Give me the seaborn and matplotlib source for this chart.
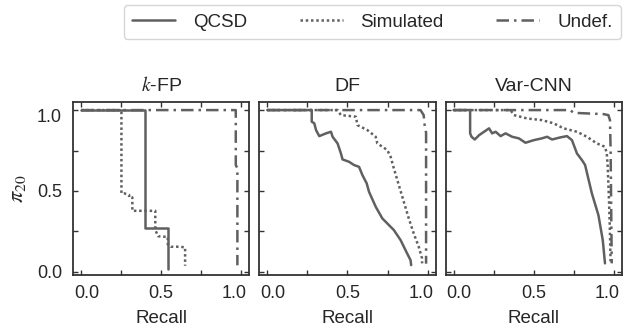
import numpy as np
import pandas as pd
import seaborn as sns
import matplotlib
matplotlib.use("Agg")
import matplotlib.pyplot as plt
from matplotlib.ticker import MultipleLocator
from matplotlib.lines import Line2D
from matplotlib.transforms import ScaledTranslation

# ---------------- data ----------------
panels = ["$k$-FP", "DF", "Var-CNN"]
methods = ["QCSD", "Simulated", "Undef."]

# k-FP
kfp_qcsd_x = [0.0, 0.399, 0.399, 0.541, 0.541]
kfp_qcsd_y = [1.0, 1.0, 0.272, 0.272, 0.02]
kfp_sim_x = [0.0, 0.252, 0.252, 0.27, 0.30, 0.30, 0.32, 0.32, 0.463, 0.463, 0.48, 0.541, 0.541, 0.56, 0.62, 0.649, 0.649]
kfp_sim_y = [1.0, 1.0, 0.485, 0.485, 0.475, 0.46, 0.46, 0.377, 0.377, 0.26, 0.22, 0.215, 0.17, 0.155, 0.155, 0.15, 0.037]
kfp_und_x = [0.0, 0.965, 0.965, 0.975, 0.975]
kfp_und_y = [1.0, 1.0, 0.66, 0.64, 0.04]

# DF
df_qcsd_x = [0.0, 0.277, 0.277, 0.293, 0.304, 0.324, 0.366, 0.397, 0.407, 0.438, 0.459, 0.469, 0.51, 0.541,
             0.572, 0.593, 0.62, 0.634, 0.676, 0.717, 0.789, 0.831, 0.872, 0.893, 0.897]
df_qcsd_y = [1.0, 1.0, 0.928, 0.918, 0.876, 0.839, 0.856, 0.866, 0.835, 0.794, 0.732, 0.695, 0.68, 0.66,
             0.649, 0.598, 0.546, 0.495, 0.402, 0.33, 0.258, 0.196, 0.113, 0.072, 0.041]
df_sim_x = [0.0, 0.438, 0.459, 0.552, 0.562, 0.624, 0.676, 0.686, 0.748, 0.769, 0.789, 0.82, 0.851, 0.882,
            0.913, 0.944, 0.965, 0.965]
df_sim_y = [1.0, 1.0, 0.969, 0.959, 0.907, 0.876, 0.835, 0.794, 0.753, 0.711, 0.639, 0.536, 0.433, 0.33,
            0.237, 0.155, 0.082, 0.052]
df_und_x = [0.0, 0.955, 0.975, 0.981, 0.99, 0.99]
df_und_y = [1.0, 1.0, 0.969, 0.907, 0.86, 0.05]

# Var-CNN
var_qcsd_x = [0.0, 0.103, 0.103, 0.112, 0.132, 0.159, 0.19, 0.221, 0.24, 0.262, 0.293, 0.324, 0.365, 0.407,
              0.448, 0.5, 0.55, 0.583, 0.614, 0.665, 0.707, 0.738, 0.769, 0.8, 0.82, 0.862, 0.903, 0.93, 0.944]
var_qcsd_y = [1.0, 1.0, 0.856, 0.835, 0.818, 0.845, 0.866, 0.887, 0.856, 0.866, 0.839, 0.856, 0.835, 0.825,
              0.798, 0.814, 0.825, 0.835, 0.818, 0.831, 0.839, 0.814, 0.732, 0.691, 0.66, 0.485, 0.35, 0.196, 0.052]
var_sim_x = [0.0, 0.355, 0.376, 0.459, 0.55, 0.624, 0.686, 0.769, 0.831, 0.893, 0.944, 0.955, 0.961, 0.969,
             0.975, 0.979]
var_sim_y = [1.0, 1.0, 0.969, 0.948, 0.938, 0.918, 0.887, 0.866, 0.835, 0.794, 0.773, 0.732, 0.649, 0.443,
             0.237, 0.052]
var_und_x = [0.0, 0.727, 0.748, 0.934, 0.965, 0.975, 0.979, 0.986]
var_und_y = [1.0, 1.0, 0.983, 0.975, 0.969, 0.938, 0.753, 0.052]

curves = {
    "$k$-FP": [(kfp_qcsd_x, kfp_qcsd_y), (kfp_sim_x, kfp_sim_y), (kfp_und_x, kfp_und_y)],
    "DF": [(df_qcsd_x, df_qcsd_y), (df_sim_x, df_sim_y), (df_und_x, df_und_y)],
    "Var-CNN": [(var_qcsd_x, var_qcsd_y), (var_sim_x, var_sim_y), (var_und_x, var_und_y)],
}

# ---------------- style ----------------
sns.set_theme(style="ticks")
plt.rcParams["font.family"] = ["Liberation Sans", "DejaVu Sans"]
plt.rcParams["mathtext.fontset"] = "stix"
fs = 13
lfs = 13.5

line_color = "#606060"
text_color = "#262626"
lw = 1.8
dash_map = {"QCSD": "", "Simulated": (1, 1.1), "Undef.": (5, 2, 1, 2)}

fig, axes = plt.subplots(1, 3, figsize=(6.24, 3.33), dpi=100, sharey=True)
fig.subplots_adjust(left=73/624, right=622/624, top=1-102/333, bottom=1-275/333, wspace=0.056)

for ax, name in zip(axes, panels):
    rows = []
    for m, (xs, ys) in zip(methods, curves[name]):
        for i, (x, y) in enumerate(zip(xs, ys)):
            rows.append({"Recall": x, "pi": y, "method": m, "order": i})
    data = pd.DataFrame(rows)
    sns.lineplot(data=data, x="Recall", y="pi", style="method", style_order=methods,
                 dashes=dash_map, sort=False, estimator=None, color=line_color,
                 linewidth=lw, ax=ax, legend=False)
    ax.set_xlim(-0.05, 1.05)
    ax.set_ylim(-0.02, 1.05)
    ax.xaxis.set_major_locator(MultipleLocator(0.5))
    ax.xaxis.set_minor_locator(MultipleLocator(0.25))
    ax.yaxis.set_major_locator(MultipleLocator(0.5))
    ax.yaxis.set_minor_locator(MultipleLocator(0.25))
    ax.tick_params(which="both", direction="in", top=True, right=True, length=3.5,
                   width=1.0, color="#333333", labelcolor=text_color, labelsize=fs)
    ax.tick_params(axis="x", which="major", pad=7)
    ax.tick_params(axis="y", which="major", pad=8)
    ax.set_title(name, fontsize=14, color=text_color, pad=8)
    ax.set_xlabel("Recall", fontsize=13.5, color=text_color, labelpad=6)
    ax.set_ylabel("")
    for s in ax.spines.values():
        s.set_linewidth(1.3)
        s.set_color("#333333")

axes[0].set_ylabel(r"$\pi_{20}$", fontsize=16, color=text_color, labelpad=6)

handles = [Line2D([0], [0], color=line_color, lw=lw, linestyle="-"),
           Line2D([0], [0], color=line_color, lw=lw, linestyle=(0, (1, 1.1))),
           Line2D([0], [0], color=line_color, lw=lw, linestyle=(0, (5, 2, 1, 2)))]
leg = fig.legend(handles, methods, loc="upper right", ncol=3,
                 bbox_to_anchor=(621/624, 1-5/333),
                 frameon=True, fontsize=lfs, handlelength=2.3, handletextpad=0.95,
                 columnspacing=2.8, borderaxespad=0.0, borderpad=0.45, fancybox=True)
leg.get_frame().set_edgecolor("#cccccc")
leg.get_frame().set_linewidth(1.0)
for t in leg.get_texts():
    t.set_color(text_color)

# end tick labels sit slightly inward in the reference
fig.canvas.draw()
px = 72.0 / fig.dpi
for ax in axes:
    for tick, loc in zip(ax.xaxis.get_major_ticks(), ax.xaxis.get_majorticklocs()):
        if abs(loc - 0.0) < 1e-9:
            dx = 5.5
        elif abs(loc - 1.0) < 1e-9:
            dx = -7.0
        else:
            continue
        tick.label1.set_transform(tick.label1.get_transform()
                                  + ScaledTranslation(dx * px / 72, 0, fig.dpi_scale_trans))
for tick, loc in zip(axes[0].yaxis.get_major_ticks(), axes[0].yaxis.get_majorticklocs()):
    if abs(loc - 1.0) < 1e-9:
        tick.label1.set_transform(tick.label1.get_transform()
                                  + ScaledTranslation(0, -5 * px / 72, fig.dpi_scale_trans))

fig.savefig("out.png", dpi=100)
